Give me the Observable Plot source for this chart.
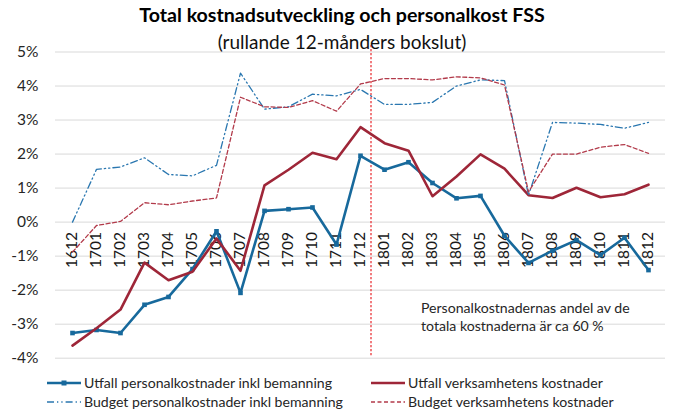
<!DOCTYPE html>
<html><head><meta charset="utf-8">
<script src="https://cdn.jsdelivr.net/npm/d3@7"></script>
<script src="https://cdn.jsdelivr.net/npm/@observablehq/plot@0.6"></script>
<style>
body{margin:0;background:#fff;font-family:Lato,"Open Sans",sans-serif;color:#000;}
#wrap{position:relative;width:673px;height:412px;overflow:hidden;}
#wrap svg{position:absolute;left:0;top:0;}
.t{position:absolute;left:0;width:684px;text-align:center;white-space:nowrap;}
#t1{top:3px;font-weight:bold;font-size:19.6px;line-height:24px;}
#t2{top:30px;font-size:19px;line-height:24px;color:#111;}
.lg{position:absolute;font-size:14.1px;line-height:16px;color:#262626;white-space:nowrap;display:flex;align-items:center;}
.lg svg{position:static !important;margin-right:3px;}
</style></head>
<body>
<div id="wrap">
<div class="t" id="t1">Total kostnadsutveckling och personalkost FSS</div>
<div class="t" id="t2">(rullande 12-månders bokslut)</div>
</div>
<script>
const months = ["1612","1701","1702","1703","1704","1705","1706","1707","1708","1709","1710","1711","1712",
                "1801","1802","1803","1804","1805","1806","1807","1808","1809","1810","1811","1812"];
const utfallPersonal = [-3.26,-3.17,-3.26,-2.43,-2.20,-1.38,-0.27,-2.08,0.33,0.38,0.43,-0.66,1.95,
                        1.54,1.76,1.15,0.70,0.77,-0.40,-1.20,-0.84,-0.53,-0.97,-0.46,-1.41];
const utfallVerksamhet = [-3.63,-3.12,-2.57,-1.19,-1.71,-1.46,-0.48,-1.43,1.08,1.54,2.04,1.85,2.79,
                          2.32,2.10,0.76,1.34,1.99,1.57,0.79,0.71,1.01,0.73,0.82,1.10];
const budgetPersonal = [0.00,1.55,1.62,1.89,1.40,1.36,1.67,4.38,3.32,3.39,3.76,3.71,3.90,
                        3.46,3.46,3.52,4.00,4.18,4.16,0.79,2.93,2.91,2.87,2.76,2.93];
const budgetVerksamhet = [-0.88,-0.10,0.02,0.57,0.51,0.62,0.71,3.67,3.39,3.37,3.57,3.26,4.06,
                          4.22,4.22,4.18,4.27,4.24,4.03,0.89,2.00,2.00,2.20,2.28,2.02];
const yTicks = [-4,-3,-2,-1,0,1,2,3,4,5];
const seriesNames = ["Utfall personalkostnader inkl bemanning","Utfall verksamhetens kostnader",
                     "Budget personalkostnader inkl bemanning","Budget verksamhetens kostnader"];
const noteText = "Personalkostnadernas andel av de\ntotala kostnaderna är ca 60 %";
const splitAfter = "1712";

const BLUE = "#17699c", RED = "#9e2638", BLUE2 = "#2a77b0", RED2 = "#b23a4a";
const tbl = arr => months.map((m, i) => ({m, v: arr[i]}));
const font = "Lato, 'Open Sans', sans-serif";

const chart = Plot.plot({
  width: 673, height: 412,
  marginLeft: 55, marginRight: 8, marginTop: 51.5, marginBottom: 54.3,
  style: {fontFamily: font, background: "transparent"},
  x: {type: "point", domain: months, padding: 0.5, axis: null},
  y: {domain: [-4, 5], axis: null, label: null},
  marks: [
    Plot.ruleY(yTicks, {stroke: "#d9d9d9", strokeWidth: 1}),
    Plot.axisY(yTicks, {tickSize: 0, tickPadding: 17, fontSize: 15.5, fill: "#262626",
                        label: null, tickFormat: d => d + "%"}),
    Plot.text(months, {x: d => d, y: () => 0, text: d => d, rotate: -90, textAnchor: "end",
                       dy: 10, fontSize: 15.5, fill: "#1a1a1a"}),
    Plot.ruleX([splitAfter], {x: d => d, y1: 5.19, y2: -3.97, dx: 10.5, stroke: "#e8262a",
                               strokeWidth: 1.2, strokeDasharray: "2.2 1.8"}),
    Plot.line(tbl(utfallPersonal), {x: "m", y: "v", stroke: BLUE, strokeWidth: 2.6}),
    Plot.dot(tbl(utfallPersonal), {x: "m", y: "v", symbol: "square", r: 2.6, fill: BLUE}),
    Plot.line(tbl(utfallVerksamhet), {x: "m", y: "v", stroke: RED, strokeWidth: 2.6}),
    Plot.line(tbl(budgetPersonal), {x: "m", y: "v", stroke: BLUE2, strokeWidth: 1.3,
                                    strokeDasharray: "7 3 1.3 3 1.3 3"}),
    Plot.line(tbl(budgetVerksamhet), {x: "m", y: "v", stroke: RED2, strokeWidth: 1.3,
                                      strokeDasharray: "4 2.5"}),
    Plot.text([noteText], {x: () => "1803", y: () => -2.76, text: d => d, dx: -11.5,
                           textAnchor: "start", lineAnchor: "middle", lineHeight: 1.3,
                           fontSize: 14.1, fill: "#262626"})
  ]
});
const wrap = document.getElementById("wrap");
wrap.insertBefore(chart, wrap.firstChild);

// legend
const legendItems = [
  {name: seriesNames[0], x: 47, y: 383, stroke: BLUE, w: 2.6, dash: null, marker: true},
  {name: seriesNames[1], x: 371, y: 383, stroke: RED, w: 2.6, dash: null, marker: false},
  {name: seriesNames[2], x: 47, y: 402, stroke: BLUE2, w: 1.3, dash: "7 3 1.3 3 1.3 3", marker: false},
  {name: seriesNames[3], x: 371, y: 402, stroke: RED2, w: 1.3, dash: "4 2.5", marker: false}
];
for (const it of legendItems) {
  const div = document.createElement("div");
  div.className = "lg";
  div.style.left = it.x + "px";
  div.style.top = (it.y - 8) + "px";
  const ns = "http://www.w3.org/2000/svg";
  const s = document.createElementNS(ns, "svg");
  s.setAttribute("width", 34); s.setAttribute("height", 16);
  const l = document.createElementNS(ns, "line");
  l.setAttribute("x1", 0); l.setAttribute("x2", 34); l.setAttribute("y1", 8); l.setAttribute("y2", 8);
  l.setAttribute("stroke", it.stroke); l.setAttribute("stroke-width", it.w);
  if (it.dash) l.setAttribute("stroke-dasharray", it.dash);
  s.appendChild(l);
  if (it.marker) {
    const r = document.createElementNS(ns, "rect");
    r.setAttribute("x", 14.5); r.setAttribute("y", 5.5); r.setAttribute("width", 5); r.setAttribute("height", 5);
    r.setAttribute("fill", it.stroke);
    s.appendChild(r);
  }
  div.appendChild(s);
  const sp = document.createElement("span");
  sp.textContent = it.name;
  div.appendChild(sp);
  wrap.appendChild(div);
}
</script>
</body></html>
